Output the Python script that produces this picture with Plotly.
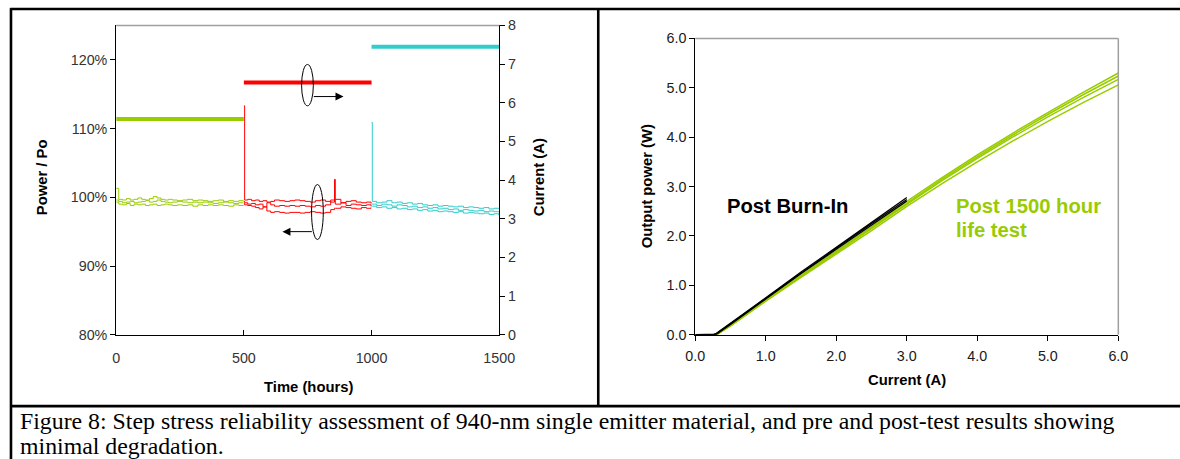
import plotly.graph_objects as go

# The page is captured slightly larger than the 1180x459 frame and scaled
# down (about 0.978 horizontally, 0.961 vertically), and the body keeps
# its 8 px margin.  All positions below are given in final-frame pixels
# and converted to figure paper coordinates by px()/py().
FRAME_W, FRAME_H = 1180, 459
SX, SY = 0.978, 0.961
OFF = 8
W = 1205 - 2 * OFF
H = 477 - 2 * OFF

# ---------------- Step-stress life test (left panel) ----------------
# Drive current applied in each stress step (A)
step_hours = [[0, 500], [500, 1000], [1000, 1500]]
step_current = [5.58, 6.52, 7.45]
step_colors = ["#99CC00", "#FF0000", "#33CCCC"]

# Normalised power (%) of three emitters during step 1
t_step1 = [0, 10, 25, 40, 55, 70, 85, 100, 115, 130, 145, 160, 175, 190, 205,
           220, 240, 260, 280, 300, 320, 340, 360, 380, 400, 420, 440, 460, 480, 498]
p_step1 = [
    [101.3, 99.7, 99.6, 99.8, 99.6, 99.7, 99.9, 99.7, 99.6, 99.8, 100.1, 99.9, 99.7, 99.6, 99.7,
     99.6, 99.5, 99.6, 99.7, 99.5, 99.6, 99.5, 99.4, 99.5, 99.6, 99.4, 99.5, 99.4, 99.5, 99.4],
    [99.6, 99.4, 99.2, 99.3, 99.4, 99.2, 99.3, 99.4, 99.5, 99.3, 99.4, 99.6, 99.4, 99.3, 99.2,
     99.3, 99.4, 99.3, 99.2, 99.3, 99.2, 99.3, 99.2, 99.1, 99.2, 99.3, 99.2, 99.1, 99.2, 99.2],
    [99.3, 99.0, 98.9, 99.1, 98.8, 99.0, 98.9, 99.0, 98.8, 98.9, 99.0, 98.8, 98.9, 99.0, 98.9,
     98.8, 98.9, 98.8, 98.9, 98.7, 98.9, 98.8, 98.9, 98.8, 98.9, 98.8, 98.7, 98.9, 98.8, 98.9],
]

# Step 2
t_step2 = [500, 503, 515, 530, 545, 560, 575, 590, 605, 620, 640, 660, 680, 700, 720,
           740, 760, 780, 800, 820, 840, 855, 858, 880, 900, 920, 940, 960, 980, 998]
p_step2 = [
    [113.3, 99.6, 99.7, 99.5, 99.6, 99.4, 99.5, 99.3, 99.4, 99.6, 99.5, 99.4, 99.5, 99.6, 99.5,
     99.4, 99.3, 99.5, 99.6, 99.4, 99.3, 99.7, 99.7, 99.2, 99.4, 99.5, 99.3, 99.2, 99.3, 99.1],
    [99.4, 99.2, 99.0, 99.1, 98.9, 99.0, 98.6, 99.2, 98.9, 98.7, 98.8, 98.7, 98.8, 98.7, 98.8,
     98.7, 98.6, 98.8, 98.7, 98.9, 99.6, 102.6, 99.0, 99.2, 98.8, 99.0, 98.9, 98.8, 98.9, 98.7],
    [99.1, 98.9, 98.8, 98.7, 98.5, 98.3, 98.6, 98.0, 97.8, 97.9, 97.8, 97.7, 97.8, 97.8, 97.7,
     97.8, 97.9, 97.8, 97.7, 97.8, 98.2, 98.4, 98.4, 98.6, 98.5, 98.4, 98.3, 98.5, 98.4, 98.5],
]

# Step 3
t_step3 = [1000, 1003, 1020, 1040, 1060, 1080, 1100, 1120, 1140, 1160, 1180, 1200, 1220, 1240,
           1260, 1280, 1300, 1320, 1340, 1360, 1380, 1400, 1420, 1440, 1460, 1480, 1498]
p_step3 = [
    [110.9, 99.4, 99.2, 99.3, 99.5, 99.2, 99.3, 99.1, 99.2, 99.0, 99.1, 98.9, 98.8, 98.9,
     98.7, 98.8, 98.7, 98.6, 98.7, 98.5, 98.6, 98.5, 98.4, 98.5, 98.3, 98.4, 98.3],
    [99.0, 99.0, 98.8, 99.0, 98.9, 98.7, 98.9, 98.8, 98.6, 98.7, 98.5, 98.6, 98.4, 98.5,
     98.3, 98.4, 98.2, 98.3, 98.1, 98.2, 98.1, 98.0, 98.1, 97.9, 98.0, 97.9, 97.8],
    [98.7, 98.7, 98.5, 98.6, 98.4, 98.5, 98.3, 98.4, 98.2, 98.3, 98.1, 98.2, 98.0, 98.1,
     97.9, 98.0, 97.9, 97.8, 97.9, 97.7, 97.8, 97.7, 97.6, 97.7, 97.5, 97.6, 97.4],
]

time_ticks = [0, 500, 1000, 1500]
power_ticks = [80, 90, 100, 110, 120]
power_ticktext = ["80%", "90%", "100%", "110%", "120%"]

# ---------------- L-I curves (right panel) ----------------
burnin_current = [0.0, 0.25, 0.3, 0.5, 0.75, 1.0, 1.5, 2.0, 2.5, 3.0]
burnin_power = [
    [0, 0, 0.03, 0.23, 0.49, 0.75, 1.27, 1.77, 2.28, 2.78],
    [0, 0, 0.02, 0.22, 0.48, 0.74, 1.25, 1.75, 2.25, 2.74],
    [0, 0, 0.01, 0.21, 0.47, 0.73, 1.24, 1.73, 2.22, 2.71],
]
life_current = [0.25, 0.3, 0.5, 0.75, 1.0, 1.5, 2.0, 2.5, 3.0, 3.5, 4.0, 4.5, 5.0, 5.5, 6.0]
life_power = [
    [0.0, 0.0, 0.20, 0.46, 0.71, 1.21, 1.70, 2.19, 2.70, 3.18, 3.64, 4.08, 4.50, 4.91, 5.30],
    [0.0, 0.0, 0.19, 0.45, 0.70, 1.19, 1.68, 2.17, 2.67, 3.15, 3.60, 4.04, 4.46, 4.86, 5.24],
    [0.0, 0.0, 0.18, 0.44, 0.69, 1.18, 1.66, 2.15, 2.64, 3.12, 3.57, 4.00, 4.41, 4.80, 5.17],
    [0.0, 0.0, 0.18, 0.43, 0.68, 1.16, 1.63, 2.11, 2.60, 3.06, 3.50, 3.92, 4.32, 4.70, 5.06],
]
li_ticks = [0, 1, 2, 3, 4, 5, 6]

caption_lines = [
    "Figure 8: Step stress reliability assessment of 940-nm single emitter material, and pre and post-test results showing",
    "minimal degradation.",
]

GREEN = "#99CC00"
SANS = "Liberation Sans, Arial, sans-serif"
SERIF = "Liberation Serif, Times New Roman, serif"


def px(x):
    return (x / SX - OFF) / W


def py(y):
    return 1 - (y / SY - OFF) / H


def fs(size):
    return size / SX


fig = go.Figure()

# power traces
for t, series, color in [(t_step1, p_step1, step_colors[0]),
                         (t_step2, p_step2, step_colors[1]),
                         (t_step3, p_step3, step_colors[2])]:
    for vals in series:
        fig.add_trace(go.Scatter(x=t, y=vals, mode="lines", line=dict(color=color, width=1, shape="hv"),
                                 xaxis="x", yaxis="y", showlegend=False, hoverinfo="skip"))

# stress current steps
for hrs, cur, color in zip(step_hours, step_current, step_colors):
    fig.add_trace(go.Scatter(x=hrs, y=[cur, cur], mode="lines", line=dict(color=color, width=4),
                             xaxis="x", yaxis="y2", showlegend=False, hoverinfo="skip"))

# L-I curves
for vals in life_power:
    fig.add_trace(go.Scatter(x=life_current, y=vals, mode="lines", line=dict(color=GREEN, width=1.5),
                             xaxis="x2", yaxis="y3", showlegend=False, hoverinfo="skip"))
for vals in burnin_power:
    fig.add_trace(go.Scatter(x=burnin_current, y=vals, mode="lines", line=dict(color="black", width=1.3),
                             xaxis="x2", yaxis="y3", showlegend=False, hoverinfo="skip"))

tick_font_l = dict(family=SANS, size=fs(14), color="#333333")
tick_font_r = dict(family=SANS, size=fs(14), color="#1a1a1a")

fig.update_layout(
    width=W, height=H, margin=dict(l=0, r=0, t=0, b=0),
    paper_bgcolor="white", plot_bgcolor="white",
    xaxis=dict(domain=[px(114), px(497)], range=[0, 1500], tickvals=time_ticks,
               showline=True, linecolor="black", linewidth=1, ticks="inside", ticklen=5,
               tickcolor="black", showgrid=False, zeroline=False, tickfont=tick_font_l,
               ticklabelstandoff=10, anchor="y", fixedrange=True),
    yaxis=dict(domain=[py(333), py(25)], range=[80, 125], tickvals=power_ticks, ticktext=power_ticktext,
               showline=True, linecolor="black", linewidth=1, ticks="outside", ticklen=5,
               tickcolor="black", showgrid=False, zeroline=False, tickfont=tick_font_l,
               anchor="x"),
    yaxis2=dict(overlaying="y", side="right", range=[0, 8], dtick=1, anchor="x",
                showline=True, linecolor="black", linewidth=1, ticks="outside", ticklen=5,
                tickcolor="black", showgrid=False, zeroline=False, tickfont=tick_font_l),
    yaxis4=dict(overlaying="y", side="right", range=[0, 8], dtick=1, anchor="x",
                showline=False, ticks="inside", ticklen=5, tickcolor="black",
                showticklabels=False, showgrid=False, zeroline=False),
    xaxis2=dict(domain=[px(693), px(1116)], range=[0, 6], tickvals=li_ticks, tickformat=".1f",
                showline=True, linecolor="black", linewidth=1, ticks="outside", ticklen=5,
                tickcolor="black", showgrid=False, zeroline=False, tickfont=tick_font_r,
                ticklabelstandoff=3, anchor="y3"),
    yaxis3=dict(domain=[py(333), py(38)], range=[0, 6], tickvals=li_ticks, tickformat=".1f",
                showline=True, linecolor="black", linewidth=1, ticks="outside", ticklen=5,
                tickcolor="black", showgrid=False, zeroline=False, tickfont=tick_font_r,
                anchor="x2"),
)

shapes = []
# plot frames (grey top / right edges)
shapes.append(dict(type="line", xref="paper", yref="paper", x0=px(114), x1=px(497), y0=py(25), y1=py(25),
                   line=dict(color="#a0a0a0", width=1.5)))
shapes.append(dict(type="line", xref="paper", yref="paper", x0=px(693), x1=px(1116), y0=py(38), y1=py(38),
                   line=dict(color="#a0a0a0", width=1.5)))
shapes.append(dict(type="line", xref="paper", yref="paper", x0=px(1116), x1=px(1116), y0=py(38), y1=py(333),
                   line=dict(color="#a0a0a0", width=1.5)))
# figure table borders
for x0, y0, x1, y1, w in [(8, 8.7, 1180, 8.7, 2.6), (8.8, 8, 8.8, 459, 2.6),
                          (8, 404, 1180, 404, 2.6), (596, 8, 596, 404, 2.6)]:
    shapes.append(dict(type="line", xref="paper", yref="paper", x0=px(x0), x1=px(x1), y0=py(y0), y1=py(y1),
                       line=dict(color="black", width=w)))
# grouping ellipses
shapes.append(dict(type="circle", xref="x", yref="y2", x0=726, x1=772, y0=5.92, y1=6.99,
                   line=dict(color="black", width=1)))
shapes.append(dict(type="circle", xref="x", yref="y", x0=765, x1=811, y0=93.85, y1=101.86,
                   line=dict(color="black", width=1)))
fig.update_layout(shapes=shapes)

ann = []
# arrows pointing to the relevant axis
ann.append(dict(x=890, y=6.16, xref="x", yref="y2", ax=768, ay=6.16, axref="x", ayref="y2",
                showarrow=True, arrowhead=2, arrowsize=1.6, arrowwidth=1, arrowcolor="black", text=""))
ann.append(dict(x=651, y=95.0, xref="x", yref="y", ax=772, ay=95.0, axref="x", ayref="y",
                showarrow=True, arrowhead=2, arrowsize=1.6, arrowwidth=1, arrowcolor="black", text=""))

title_font = dict(family=SANS, size=fs(14.5), color="black")
label_size = fs(19.8)
cap_size = 23.3 / SX
ann += [
    dict(text="<b>Power / Po</b>", x=px(40), y=py(176), textangle=-90, font=title_font),
    dict(text="<b>Current (A)</b>", x=px(537), y=py(176), textangle=-90, font=title_font),
    dict(text="<b>Time (hours)</b>", x=px(306), y=py(385), font=title_font),
    dict(text="<b>Output power (W)</b>", x=px(645), y=py(185), textangle=-90, font=title_font),
    dict(text="<b>Current (A)</b>", x=px(905), y=py(378), font=title_font),
    dict(text="<b>Post Burn-In</b>", x=px(723), y=py(205), xanchor="left",
         font=dict(family=SANS, size=label_size, color="black")),
    dict(text="<b>Post 1500 hour</b>", x=px(952), y=py(205), xanchor="left",
         font=dict(family=SANS, size=label_size, color=GREEN)),
    dict(text="<b>life test</b>", x=px(952), y=py(229), xanchor="left",
         font=dict(family=SANS, size=label_size, color=GREEN)),
    dict(text=caption_lines[0], x=px(16), y=py(419), xanchor="left",
         font=dict(family=SERIF, size=cap_size, color="black")),
    dict(text=caption_lines[1], x=px(16), y=py(443.5), xanchor="left",
         font=dict(family=SERIF, size=cap_size, color="black")),
]
for a in ann:
    a.setdefault("xref", "paper")
    a.setdefault("yref", "paper")
    a.setdefault("showarrow", False)
    a.setdefault("xanchor", "center")
    a.setdefault("yanchor", "middle")
fig.update_layout(annotations=ann)

fig.write_html("out.html")
